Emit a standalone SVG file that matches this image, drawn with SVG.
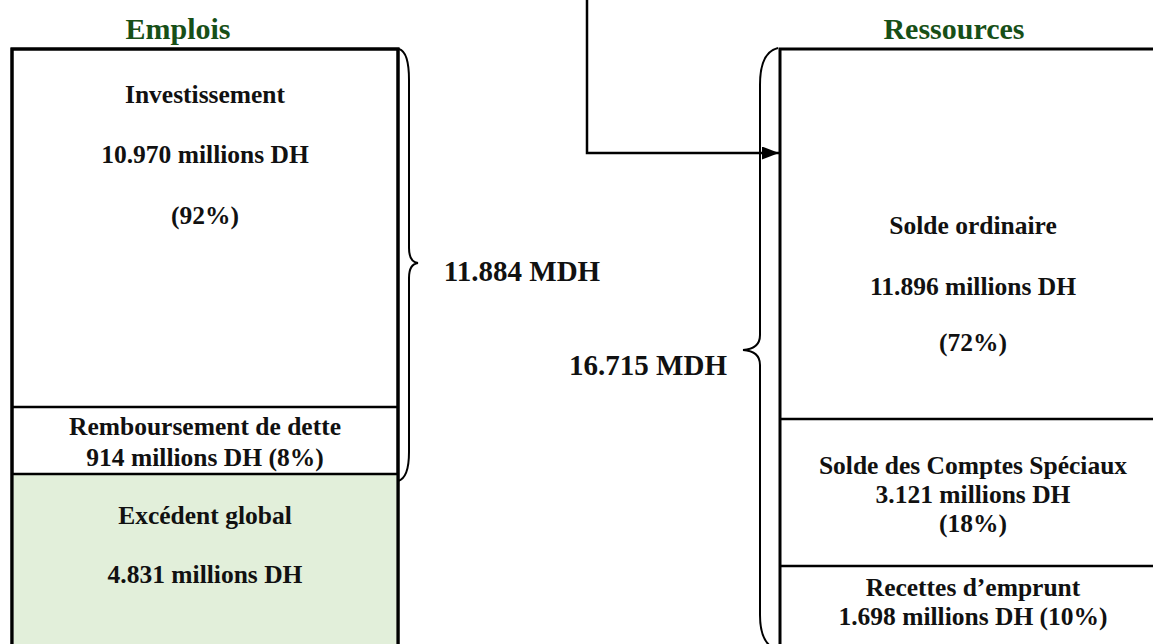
<svg xmlns="http://www.w3.org/2000/svg" width="1153" height="644" viewBox="0 0 1153 644">
<style>
.t{font-family:"Liberation Serif","Times New Roman",serif;font-weight:bold;font-size:25.5px;fill:#111;text-anchor:middle}
.h{font-family:"Liberation Serif","Times New Roman",serif;font-weight:bold;font-size:30px;fill:#174F17;text-anchor:middle}
.big{font-family:"Liberation Serif","Times New Roman",serif;font-weight:bold;font-size:29px;fill:#111;text-anchor:middle}
.box{fill:#fff;stroke:#000;stroke-width:3}
.div{stroke:#000;stroke-width:2.5}
.brace{fill:none;stroke:#000;stroke-width:2}
</style>
<defs>
<marker id="ah" markerWidth="17" markerHeight="13" refX="17" refY="6.5" orient="auto" markerUnits="userSpaceOnUse">
<path d="M0,0 L17,6.5 L0,13 Z" fill="#000"/>
</marker>
</defs>
<rect width="1153" height="644" fill="#fff"/>
<g id="emplois-header"><text class="h" x="178" y="39">Emplois</text></g>
<g id="ressources-header"><text class="h" x="954" y="39">Ressources</text></g>
<g id="emplois-box">
<rect class="box" x="12" y="49" width="386" height="620"/>
<rect x="13.5" y="474" width="383" height="195" fill="#E2EFDA"/>
<line class="div" x1="12" y1="407" x2="398" y2="407"/>
<line class="div" x1="12" y1="474" x2="398" y2="474"/>
<rect x="12" y="49" width="386" height="620" fill="none" stroke="#000" stroke-width="3"/>
</g>
<g id="investissement">
<text class="t" x="205" y="103">Investissement</text>
<text class="t" x="205" y="163">10.970 millions DH</text>
<text class="t" x="205" y="224">(92%)</text>
</g>
<g id="remboursement">
<text class="t" x="205" y="435">Remboursement de dette</text>
<text class="t" x="205" y="466">914 millions DH (8%)</text>
</g>
<g id="excedent">
<text class="t" x="205" y="524">Excédent global</text>
<text class="t" x="205" y="583">4.831 millions DH</text>
</g>
<g id="ressources-box">
<rect class="box" x="780" y="49" width="400" height="620"/>
<line class="div" x1="780" y1="419" x2="1153" y2="419"/>
<line class="div" x1="780" y1="566" x2="1153" y2="566"/>
</g>
<g id="solde-ordinaire">
<text class="t" x="973" y="234">Solde ordinaire</text>
<text class="t" x="973" y="295">11.896 millions DH</text>
<text class="t" x="973" y="351">(72%)</text>
</g>
<g id="solde-comptes-speciaux">
<text class="t" x="973" y="474">Solde des Comptes Spéciaux</text>
<text class="t" x="973" y="503">3.121 millions DH</text>
<text class="t" x="973" y="532">(18%)</text>
</g>
<g id="recettes-emprunt">
<text class="t" x="973" y="596">Recettes d’emprunt</text>
<text class="t" x="973" y="625">1.698 millions DH (10%)</text>
</g>
<g id="brace-emplois">
<path class="brace" d="M399,49 Q409,52 409,80 L409,248 Q409,262 418,263 Q409,264 409,278 L409,452 Q409,478 398,481"/>
<text class="big" x="522" y="281">11.884 MDH</text>
</g>
<g id="brace-ressources">
<path class="brace" d="M778,48 Q760,52 760,85 L760,335 Q760,349 743,350 Q760,351 760,365 L760,615 Q760,645 778,650"/>
<text class="big" x="648" y="375">16.715 MDH</text>
</g>
<g id="connectors">
<path d="M587,0 V153 H779" fill="none" stroke="#000" stroke-width="2.5" marker-end="url(#ah)"/>
</g>
</svg>
